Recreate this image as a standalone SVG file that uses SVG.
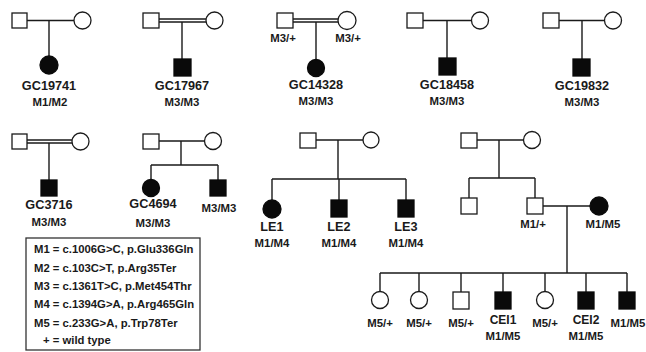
<svg xmlns="http://www.w3.org/2000/svg" width="646" height="352" viewBox="0 0 646 352">
<style>
.n{fill:#fff;stroke:#1a1a1a;stroke-width:1.3}
.a{fill:#0a0a0a;stroke:#0a0a0a;stroke-width:1.3}
.c{fill:none;stroke:#1a1a1a;stroke-width:1.4}
text{font-family:"Liberation Sans",Arial,sans-serif;font-weight:bold;fill:#1a1a1a;text-anchor:middle}
.id{font-size:12.7px}
.g{font-size:11.4px}
.lg{font-size:11.3px;text-anchor:start}
</style>
<rect width="646" height="352" fill="#fff"/>
<g id="connectors" class="c">
<path d="M27 20.5H74M49 20.5V56"/>
<path d="M159 19H206M159 22H206M182 22V59"/>
<path d="M293 19H338M293 22H338M316 22V59.5"/>
<path d="M423 20.5H471.5M447 20.5V58"/>
<path d="M559 20.5H604.5M582 20.5V59"/>
<path d="M27 140H72M27 143H72M49 143V180"/>
<path d="M159 141H204.5M181 141V165M151 165H218M151 165V179.5M218 165V180"/>
<path d="M316 140H363M338 140V179M272 179H406M272 179V200M339 179V200M406 179V200"/>
<path d="M477 140H523.5M499 140V178M469 178H535M469 178V198M535 178V198M543 206H590M567 206V273M380 273H627M380 273V291.5M419 273V291.5M461 273V292M503 273V292M545 273V291.5M586 273V292M627 273V292"/>
</g>
<g id="p1-father"><rect class="n" x="12" y="13" width="15" height="15"/></g>
<g id="p1-mother"><circle class="n" cx="82.5" cy="20.5" r="8.5"/></g>
<g id="GC19741"><circle class="a" cx="49" cy="65" r="9"/><text class="id" x="49" y="90">GC19741</text><text class="g" x="50" y="106">M1/M2</text></g>

<g id="p2-father"><rect class="n" x="143" y="13" width="16" height="15"/></g>
<g id="p2-mother"><circle class="n" cx="214.5" cy="20.5" r="8.5"/></g>
<g id="GC17967"><rect class="a" x="174" y="59" width="17" height="17"/><text class="id" x="182" y="90">GC17967</text><text class="g" x="182" y="106">M3/M3</text></g>

<g id="p3-father"><rect class="n" x="277" y="13" width="16" height="15"/><text class="g" x="283" y="42">M3/+</text></g>
<g id="p3-mother"><circle class="n" cx="347" cy="20.5" r="9"/><text class="g" x="348" y="42">M3/+</text></g>
<g id="GC14328"><circle class="a" cx="316" cy="68" r="8.5"/><text class="id" x="316" y="89">GC14328</text><text class="g" x="316" y="105">M3/M3</text></g>

<g id="p4-father"><rect class="n" x="407" y="13" width="16" height="15"/></g>
<g id="p4-mother"><circle class="n" cx="480" cy="20.5" r="8.5"/></g>
<g id="GC18458"><rect class="a" x="439" y="58" width="17" height="17"/><text class="id" x="447" y="89">GC18458</text><text class="g" x="447" y="105">M3/M3</text></g>

<g id="p5-father"><rect class="n" x="543" y="13" width="16" height="15"/></g>
<g id="p5-mother"><circle class="n" cx="613" cy="20.5" r="8.5"/></g>
<g id="GC19832"><rect class="a" x="573" y="59" width="17" height="17"/><text class="id" x="582" y="90">GC19832</text><text class="g" x="582" y="106">M3/M3</text></g>

<g id="p6-father"><rect class="n" x="12" y="134" width="15" height="15"/></g>
<g id="p6-mother"><circle class="n" cx="80.5" cy="141.5" r="8.5"/></g>
<g id="GC3716"><rect class="a" x="41" y="180" width="16" height="16"/><text class="id" x="49" y="209">GC3716</text><text class="g" x="49" y="226">M3/M3</text></g>

<g id="p7-father"><rect class="n" x="143" y="134" width="16" height="15"/></g>
<g id="p7-mother"><circle class="n" cx="213" cy="141" r="8.5"/></g>
<g id="GC4694"><circle class="a" cx="151" cy="188" r="8.5"/><text class="id" x="153" y="208">GC4694</text><text class="g" x="153" y="227">M3/M3</text></g>
<g id="p7-brother"><rect class="a" x="210" y="180" width="16" height="16"/><text class="g" x="219" y="212">M3/M3</text></g>

<g id="p8-father"><rect class="n" x="300" y="133" width="16" height="15"/></g>
<g id="p8-mother"><circle class="n" cx="371" cy="140" r="8"/></g>
<g id="LE1"><circle class="a" cx="272" cy="209" r="9"/><text class="id" x="272" y="231">LE1</text><text class="g" x="272" y="247">M1/M4</text></g>
<g id="LE2"><rect class="a" x="331" y="200" width="16" height="17"/><text class="id" x="339" y="231">LE2</text><text class="g" x="339" y="247">M1/M4</text></g>
<g id="LE3"><rect class="a" x="398" y="200" width="16" height="17"/><text class="id" x="406" y="231">LE3</text><text class="g" x="406" y="247">M1/M4</text></g>

<g id="p9-grandfather"><rect class="n" x="461" y="133" width="16" height="15"/></g>
<g id="p9-grandmother"><circle class="n" cx="532" cy="140" r="8.5"/></g>
<g id="p9-uncle"><rect class="n" x="461" y="198" width="16" height="16"/></g>
<g id="p9-father"><rect class="n" x="527" y="198" width="16" height="16"/><text class="g" x="533" y="228">M1/+</text></g>
<g id="p9-mother"><circle class="a" cx="599" cy="206" r="9"/><text class="g" x="603" y="228">M1/M5</text></g>
<g id="p9-c1"><circle class="n" cx="380" cy="300" r="8.5"/><text class="g" x="380" y="327">M5/+</text></g>
<g id="p9-c2"><circle class="n" cx="419" cy="300" r="8.5"/><text class="g" x="419" y="327">M5/+</text></g>
<g id="p9-c3"><rect class="n" x="453" y="292" width="16" height="17"/><text class="g" x="461" y="327">M5/+</text></g>
<g id="CEI1"><rect class="a" x="495" y="292" width="16" height="17"/><text class="id" x="503" y="324" style="font-size:12px">CEI1</text><text class="g" x="503" y="340">M1/M5</text></g>
<g id="p9-c5"><circle class="n" cx="545" cy="300" r="8.5"/><text class="g" x="545" y="327">M5/+</text></g>
<g id="CEI2"><rect class="a" x="578" y="292" width="16" height="17"/><text class="id" x="586" y="324" style="font-size:12px">CEI2</text><text class="g" x="586" y="340">M1/M5</text></g>
<g id="p9-c7"><rect class="a" x="619" y="292" width="16" height="17"/><text class="g" x="628" y="327">M1/M5</text></g>

<g id="legend">
<rect x="26" y="238" width="174" height="112" fill="#fff" stroke="#333" stroke-width="1.3"/>
<text class="lg" x="34" y="253">M1 = c.1006G&gt;C, p.Glu336Gln</text>
<text class="lg" x="34" y="272">M2 = c.103C&gt;T, p.Arg35Ter</text>
<text class="lg" x="34" y="290">M3 = c.1361T&gt;C, p.Met454Thr</text>
<text class="lg" x="34" y="308">M4 = c.1394G&gt;A, p.Arg465Gln</text>
<text class="lg" x="34" y="327">M5 = c.233G&gt;A, p.Trp78Ter</text>
<text class="lg" x="43" y="344">+ = wild type</text>
</g>
</svg>
